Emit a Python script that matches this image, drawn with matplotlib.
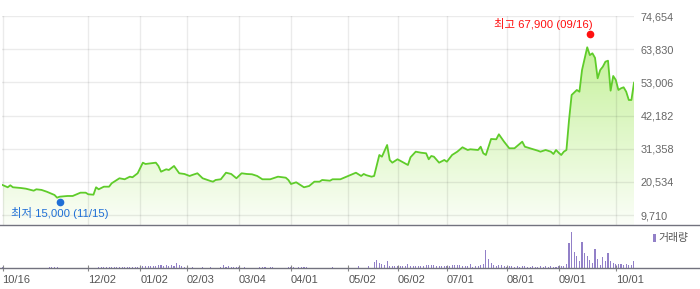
import numpy as np
import matplotlib
matplotlib.use("Agg")
import matplotlib.pyplot as plt
from matplotlib.colors import LinearSegmentedColormap
from matplotlib.lines import Line2D
from matplotlib.patches import Rectangle

plt.rcParams['font.family'] = ['Liberation Sans', 'Noto Sans CJK KR']

# price (close) by trading-day index, 10/16 = day 0
days = [0, 2, 3, 4, 7, 9, 12, 13, 15, 17, 20, 21, 22, 25, 27, 30, 32, 33, 35, 36,
        37, 39, 41, 42, 45, 47, 49, 50, 52, 54, 55, 57, 59, 60, 61, 63, 64, 66, 68, 70,
        72, 73, 75, 77, 80, 81, 82, 84, 86, 88, 90, 92, 94, 96, 98, 100, 103, 106, 109, 110,
        111, 113, 114, 116, 118, 120, 122, 123, 126, 127, 130, 133, 136, 138, 139, 140, 142, 143, 145, 146,
        148, 149, 150, 152, 153, 156, 157, 159, 161, 163, 164, 165, 166, 168, 170, 171, 173, 175, 177, 179,
        180, 183, 184, 185, 186, 188, 190, 191, 193, 195, 197, 200, 201, 203, 206, 207, 209, 211, 212, 213,
        214, 215, 216, 217, 218, 219, 221, 222, 223, 225, 226, 227, 228, 229, 230, 231, 232, 233, 234, 235,
        236, 237, 238, 239, 240, 241, 242, 243]
prices = [19500, 18760, 19410, 18760, 18530, 18300, 17650, 18100, 17900, 17320, 16250, 15370, 15690, 15920, 15920, 17000, 17000, 16475, 16345, 18760,
          18100, 18955, 18955, 20065, 21700, 21370, 22220, 22020, 23330, 26790, 26360, 26590, 26790, 25710, 23850, 24630, 24400, 25710, 23330, 23100,
          22450, 22770, 23330, 21700, 20815, 20590, 21140, 21370, 23520, 23100, 21700, 23330, 23100, 23000, 22450, 21370, 21370, 22220, 21890, 21140,
          19835, 20390, 19835, 18760, 19180, 20590, 20590, 21140, 20910, 21370, 21370, 22450, 23520, 22450, 23100, 22700, 22220, 22450, 29300, 28740,
          32560, 27670, 26790, 27900, 27440, 26035, 28550, 30380, 30050, 29850, 27900, 28970, 28740, 26790, 27670, 27110, 29300, 30380, 31810, 30930,
          31160, 30930, 32000, 29850, 29300, 34520, 34420, 36050, 33640, 31485, 31485, 33640, 32000, 31485, 30700, 30380, 30930, 30380, 29625, 30930,
          30050, 29300, 30380, 30930, 40720, 48880, 50510, 49950, 57030, 64440, 61900, 62480, 61000, 54330, 57030, 58110, 59740, 60070, 50280, 55080,
          53770, 50510, 51060, 51390, 49950, 47245, 47245, 52890]

# daily volume (thousand shares), day 0 .. 243
volume = [8, 0, 0, 0, 0, 0, 0, 0, 0, 0,
          0, 0, 0, 0, 0, 0, 0, 0, 8, 8,
          8, 8, 0, 0, 0, 0, 0, 0, 0, 0,
          0, 0, 0, 0, 0, 0, 0, 10, 12, 10,
          12, 10, 12, 15, 12, 10, 15, 12, 12, 15,
          12, 15, 15, 20, 25, 20, 22, 25, 20, 25,
          28, 33, 25, 30, 22, 28, 25, 50, 30, 20,
          12, 0, 0, 10, 0, 0, 0, 10, 0, 0,
          10, 0, 0, 0, 10, 27, 15, 17, 13, 15,
          12, 12, 0, 8, 0, 0, 0, 0, 0, 10,
          10, 10, 0, 10, 8, 0, 0, 0, 0, 0,
          12, 10, 10, 0, 12, 10, 10, 8, 0, 0,
          0, 0, 0, 0, 0, 0, 0, 15, 0, 0,
          0, 0, 0, 8, 0, 0, 0, 17, 0, 0,
          0, 17, 0, 57, 77, 50, 43, 33, 73, 25,
          20, 20, 20, 25, 20, 25, 43, 25, 25, 20,
          25, 20, 20, 33, 33, 33, 30, 25, 20, 20,
          25, 20, 25, 33, 33, 33, 30, 20, 25, 20,
          43, 15, 20, 25, 30, 37, 183, 90, 50, 33,
          25, 33, 33, 25, 15, 20, 25, 15, 20, 15,
          20, 25, 15, 15, 20, 15, 15, 20, 15, 20,
          15, 20, 15, 15, 20, 17, 20, 40, 253, 363,
          157, 123, 67, 263, 150, 117, 83, 50, 190, 90,
          30, 110, 67, 147, 67, 50, 43, 37, 37, 27,
          43, 33, 30, 73]

tick_days = [0, 33, 53, 71, 91, 111, 133, 152, 171, 194, 214, 236]
tick_labels = ['10/16', '12/02', '01/02', '02/03', '03/04', '04/01',
               '05/02', '06/02', '07/01', '08/01', '09/01', '10/01']
price_ticks = [9710, 20534, 31358, 42182, 53006, 63830, 74654]

low_day, low_price, low_text = 22, 15000, '최저 15,000 (11/15)'
high_day, high_price, high_text = 226, 67900, '최고 67,900 (09/16)'

W, H = 700, 289
fig = plt.figure(figsize=(W / 100, H / 100), dpi=100)

def box(x0, y0, x1, y1):
    return [x0 / W, 1 - y1 / H, (x1 - x0) / W, (y1 - y0) / H]

ax = fig.add_axes(box(2, 16, 634, 225))
ax2 = fig.add_axes(box(2, 225, 634, 268), sharex=ax)

ylo = 6450
yhi = price_ticks[-1]

# gradient fill under the price line
cmap = LinearSegmentedColormap.from_list('g', ['#fbfef8', '#bdef8c'])
grad = np.linspace(0, 1, 256).reshape(-1, 1)
im = ax.imshow(grad, extent=[days[0], days[-1], ylo, yhi], origin='lower',
               aspect='auto', cmap=cmap, zorder=1)
poly = ax.fill_between(days, prices, ylo, color='none', lw=0)
im.set_clip_path(poly.get_paths()[0], ax.transData)

ax.plot(days, prices, color='#5fcc2a', lw=1.3, zorder=3)

ax.plot(low_day, low_price, 'o', color='#1f6fd6', ms=4.5, zorder=4,
        transform=ax.transData + matplotlib.transforms.ScaledTranslation(0, -3 / 100, fig.dpi_scale_trans))
ax.plot(high_day, high_price, 'o', color='#ff1010', ms=4.5, zorder=4,
        transform=ax.transData + matplotlib.transforms.ScaledTranslation(0, 2.5 / 100, fig.dpi_scale_trans))
ax.annotate(low_text, (low_day, low_price), xytext=(0, -14), textcoords='offset pixels',
            ha='center', va='center', fontsize=8.2, color='#1f6fd6')
ax.annotate(high_text, (high_day, high_price), xytext=(3, 13), textcoords='offset pixels',
            ha='right', va='center', fontsize=8.2, color='#ff1010')

ax.set_xlim(-0.2, 243)
ax.set_ylim(ylo, yhi)
ax.set_xticks(tick_days)
ax.set_yticks(price_ticks)
ax.set_yticklabels([f'{v:,}' for v in price_ticks])
ax.yaxis.tick_right()
ax.tick_params(axis='x', length=0, labelbottom=False)
ax.tick_params(axis='y', length=0, pad=5, labelsize=7.8, labelcolor='#666666')
ax.grid(True, color='black', alpha=0.08, lw=1)
ax.set_axisbelow(False)
for s in ax.spines.values():
    s.set_visible(False)

# volume panel
ax2.bar(np.arange(len(volume)), volume, width=0.42, color='#9280c8', lw=0, antialiased=False)
ax2.set_ylim(0, 430)
ax2.set_yticks([])
ax2.set_xticks(tick_days)
ax2.set_xticklabels(tick_labels)
for lbl in ax2.get_xticklabels():
    lbl.set_ha('left')
ax2.tick_params(axis='x', direction='inout', length=4, color='#888888',
                labelsize=8, labelcolor='#555555', pad=3)
for s in ax2.spines.values():
    s.set_visible(False)

# separator and bottom lines across the whole width
for yy in (225, 268):
    fig.add_artist(Line2D([0, 1], [1 - yy / H, 1 - yy / H], transform=fig.transFigure,
                          color='#72727e', lw=1))

# volume legend
fig.add_artist(Rectangle((653 / W, 1 - 242 / H), 3 / W, 8 / H, transform=fig.transFigure,
                         color='#9280c8', lw=0))
fig.text(658 / W, 1 - 238 / H, '거래량', fontsize=7.8, color='#555555', va='center', ha='left')

fig.savefig('out.png', dpi=100)
